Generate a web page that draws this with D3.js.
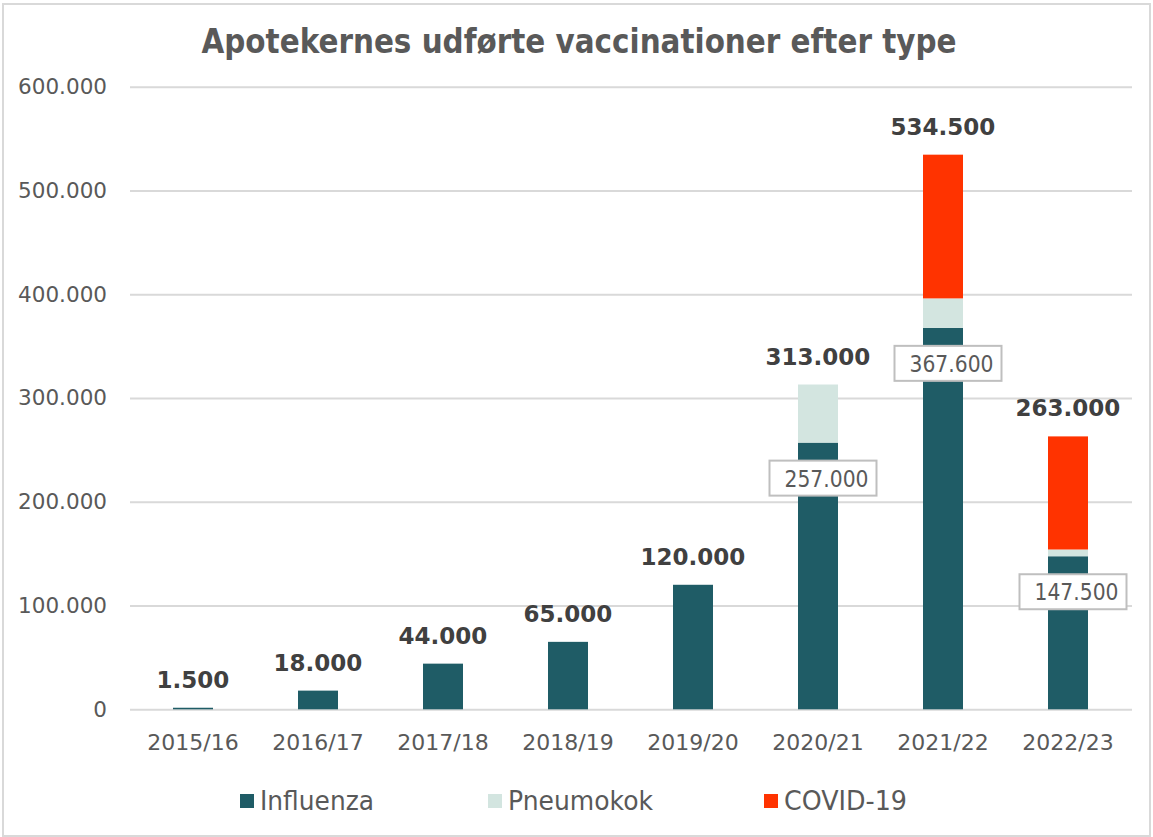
<!DOCTYPE html>
<html>
<head>
<meta charset="utf-8">
<script src="https://cdn.jsdelivr.net/npm/d3@7"></script>
<style>
  html, body { margin: 0; padding: 0; background: #ffffff; }
  svg { display: block; }
  text { font-family: "DejaVu Sans", Verdana, sans-serif; }
</style>
</head>
<body>
<svg id="chart" width="1153" height="837"></svg>
<script>
const categories = ["2015/16", "2016/17", "2017/18", "2018/19", "2019/20", "2020/21", "2021/22", "2022/23"];
const influenza = [1500, 18000, 44000, 65000, 120000, 257000, 367600, 147500];
const pneumokok = [0, 0, 0, 0, 0, 56000, 28400, 6500];
const covid = [0, 0, 0, 0, 0, 0, 138500, 109000];
const totals = [1500, 18000, 44000, 65000, 120000, 313000, 534500, 263000];
const boxedLabels = [false, false, false, false, false, true, true, true];
const yTicks = [0, 100000, 200000, 300000, 400000, 500000, 600000];
const seriesNames = ["Influenza", "Pneumokok", "COVID-19"];
const seriesColors = ["#1F5C66", "#D3E5E0", "#FF3300"];
const titleText = "Apotekernes udførte vaccinationer efter type";

const svg = d3.select("#chart");
const loc = d3.formatLocale({decimal: ",", thousands: ".", grouping: [3], currency: ["", " kr"]});
const fmt = loc.format(",.0f");

// outer border
svg.append("rect").attr("x", 3).attr("y", 4).attr("width", 1147).attr("height", 832)
  .attr("fill", "#fff").attr("stroke", "#d9d9d9").attr("stroke-width", 2);

const x = d3.scaleBand().domain(categories).range([130.5, 1130.5]).paddingInner(0.68).paddingOuter(0.34);
const y = d3.scaleLinear().domain([0, 600000]).range([709.3, 86.7]);

// title
svg.append("text").attr("x", 579).attr("y", 53).attr("text-anchor", "middle")
  .attr("font-size", 33).attr("font-weight", "bold").attr("fill", "#595959")
  .attr("textLength", 755).attr("lengthAdjust", "spacingAndGlyphs")
  .text(titleText);

// gridlines + y axis
const yAxis = d3.axisLeft(y).tickValues(yTicks).tickSize(-1002).tickPadding(23).tickFormat(fmt);
const gy = svg.append("g").attr("transform", "translate(130,0)").call(yAxis);
gy.select(".domain").remove();
gy.selectAll(".tick line").attr("stroke", "#d9d9d9").attr("stroke-width", 2);
gy.selectAll(".tick text").attr("font-size", 21.5).attr("fill", "#595959")
  .attr("font-family", "DejaVu Sans, Verdana, sans-serif");

// x axis labels
const xAxis = d3.axisBottom(x).tickSize(0).tickPadding(0);
const gx = svg.append("g").attr("transform", "translate(0,733)").call(xAxis);
gx.select(".domain").remove();
gx.selectAll(".tick text").attr("font-size", 22).attr("fill", "#595959")
  .attr("dy", "0.75em").attr("font-family", "DejaVu Sans, Verdana, sans-serif");

// stacked bars
const rows = categories.map((c, i) => ({cat: c, Influenza: influenza[i], Pneumokok: pneumokok[i], "COVID-19": covid[i]}));
const stack = d3.stack().keys(seriesNames)(rows);
svg.append("g").selectAll("g").data(stack).join("g")
  .attr("fill", (d, i) => seriesColors[i])
  .selectAll("rect").data(d => d.filter(p => p[1] - p[0] > 0)).join("rect")
  .attr("x", d => x(d.data.cat))
  .attr("width", x.bandwidth())
  .attr("y", d => y(d[1]))
  .attr("height", d => y(d[0]) - y(d[1]));

// total labels
svg.append("g").selectAll("text").data(categories).join("text")
  .attr("x", d => x(d) + x.bandwidth() / 2)
  .attr("y", (d, i) => y(totals[i]) - 20)
  .attr("text-anchor", "middle").attr("font-size", 23).attr("font-weight", "bold")
  .attr("fill", "#404040")
  .text((d, i) => fmt(totals[i]));

// boxed influenza labels
const boxed = categories.map((c, i) => ({cat: c, v: influenza[i], show: boxedLabels[i]})).filter(d => d.show);
const bg = svg.append("g").selectAll("g").data(boxed).join("g")
  .attr("transform", d => `translate(${x(d.cat) + x.bandwidth() / 2 + 5 - 53.5},${y(d.v) + 18})`);
bg.append("rect").attr("width", 107).attr("height", 35)
  .attr("fill", "#fff").attr("stroke", "#bfbfbf").attr("stroke-width", 2);
bg.append("text").attr("x", 99).attr("y", 26).attr("text-anchor", "end")
  .attr("font-size", 22.5).attr("fill", "#595959")
  .attr("textLength", 84).attr("lengthAdjust", "spacingAndGlyphs")
  .text(d => fmt(d.v));

// legend
const legendX = [240, 488, 764];
const legendW = [114, 145, 123];
const lg = svg.append("g").selectAll("g").data(seriesNames).join("g")
  .attr("transform", (d, i) => `translate(${legendX[i]},0)`);
lg.append("rect").attr("x", 0).attr("y", 794).attr("width", 14).attr("height", 14)
  .attr("fill", (d, i) => seriesColors[i]);
lg.append("text").attr("x", 20).attr("y", 810).attr("font-size", 26).attr("fill", "#595959")
  .attr("textLength", (d, i) => legendW[i]).attr("lengthAdjust", "spacingAndGlyphs")
  .text(d => d);
</script>
</body>
</html>
